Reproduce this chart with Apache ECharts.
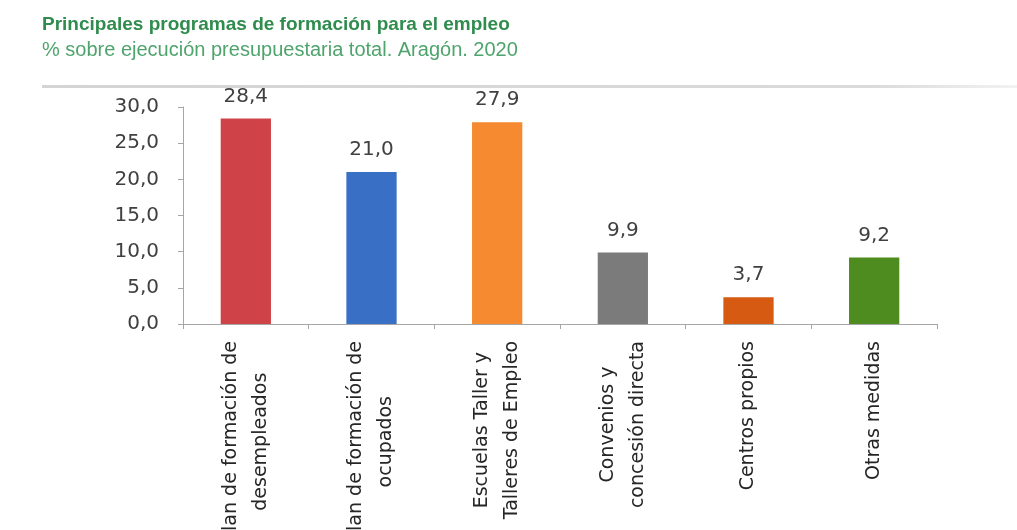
<!DOCTYPE html>
<html>
<head>
<meta charset="utf-8">
<script src="https://cdn.jsdelivr.net/npm/echarts@6/dist/echarts.min.js"></script>
<style>html,body{margin:0;padding:0;background:#fff}#c{width:1017px;height:530px}</style>
</head>
<body>
<div id="c"></div>
<script>
var titleText = 'Principales programas de formación para el empleo';
var subtitleText = '% sobre ejecución presupuestaria total. Aragón. 2020';
var categories = ['Plan de formación de\ndesempleados', 'Plan de formación de\nocupados', 'Escuelas Taller y\nTalleres de Empleo', 'Convenios y\nconcesión directa', 'Centros propios', 'Otras medidas'];
var values = [28.4, 21.0, 27.9, 9.9, 3.7, 9.2];
var barColors = ['#cf4348', '#3a6fc6', '#f58a30', '#7b7b7b', '#d65a12', '#4f8c1f'];
var yTicks = {min: 0, max: 30, interval: 5};

function fmt(v) { return Number(v).toFixed(1).replace('.', ','); }
var NUM_FONT = 'DejaVu Sans';
var chart = echarts.init(document.getElementById('c'), null, {renderer: 'canvas'});
chart.setOption({
  animation: false,
  backgroundColor: '#ffffff',
  title: [{
    text: titleText, left: 37, top: 10,
    textStyle: {fontFamily: 'Liberation Sans', fontWeight: 'bold', fontSize: 19, color: '#2f8c4d'}
  }, {
    text: subtitleText, left: 37, top: 35,
    textStyle: {fontFamily: 'Liberation Sans', fontWeight: 'normal', fontSize: 20, color: '#4ea46c'}
  }],
  graphic: [{
    type: 'rect', shape: {x: 42, y: 85, width: 975, height: 3},
    style: {fill: new echarts.graphic.LinearGradient(0, 0, 1, 0, [{offset: 0, color: '#d4d4d4'}, {offset: 0.85, color: '#dadada'}, {offset: 1, color: '#f2f2f2'}])}
  }],
  grid: {left: 183, right: 80, top: 107, bottom: 206, containLabel: false, outerBoundsMode: 'none'},
  xAxis: {
    type: 'category', data: categories,
    axisLine: {lineStyle: {color: '#a6a6a6', width: 1}},
    axisTick: {show: true, length: 5, lineStyle: {color: '#a6a6a6'}},
    axisLabel: {
      rotate: 90, margin: 17, color: '#262626', fontFamily: 'DejaVu Sans', fontSize: 19,
      formatter: function (v) {
        var lines = v.split('\n');
        if (lines.length === 1) return v;
        return lines.map(function (l) { return '{c|' + l + '}'; }).join('\n');
      },
      rich: {c: {align: 'center', fontFamily: 'DejaVu Sans', fontSize: 19, lineHeight: 30, color: '#262626'}}
    }
  },
  yAxis: {
    type: 'value', min: yTicks.min, max: yTicks.max, interval: yTicks.interval,
    axisLine: {show: true, lineStyle: {color: '#a6a6a6'}},
    axisTick: {show: true, length: 5, lineStyle: {color: '#a6a6a6'}},
    splitLine: {show: false},
    axisLabel: {margin: 24, color: '#404040', fontFamily: NUM_FONT, fontSize: 20, formatter: fmt}
  },
  series: [{
    type: 'bar', barWidth: '40%',
    data: values.map(function (v, i) { return {value: v, itemStyle: {color: barColors[i]}}; }),
    label: {show: true, position: 'top', distance: 12, color: '#404040', fontFamily: NUM_FONT, fontSize: 20,
      formatter: function (p) { return fmt(p.value); }}
  }]
});
</script>
</body>
</html>
